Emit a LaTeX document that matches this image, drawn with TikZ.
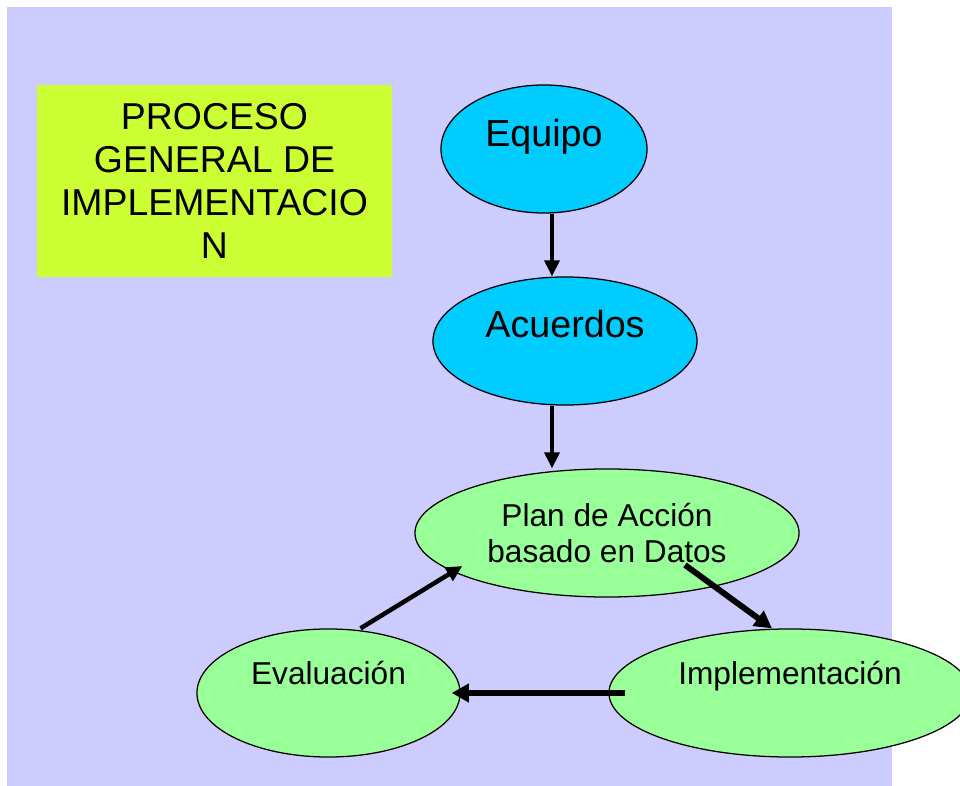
\documentclass[tikz,border=0pt]{standalone}
\usepackage{fontspec}
\setmainfont{Liberation Sans}
\usetikzlibrary{shapes.geometric,arrows.meta,calc}
\definecolor{fondo}{HTML}{CCCCFF}
\definecolor{amarillo}{HTML}{CCFF33}
\definecolor{azul}{HTML}{00CCFF}
\definecolor{verde}{HTML}{99FF99}
\begin{document}
\begin{tikzpicture}[x=0.025cm, y=-0.025cm,
  oval/.style = {draw, ellipse, line width=0.9pt, inner sep=0pt, minimum height=3.2cm},
  top/.style = {oval, fill=azul, font=\fontsize{26.8}{31}\selectfont, text height=0.65cm},
  ciclo/.style = {oval, fill=verde, font=\fontsize{22.5}{25.5}\selectfont},
  flecha/.style = {-{Triangle[length=0.4cm, width=0.375cm]}, line width=2.5pt},
  gruesa/.style = {-{Triangle[length=0.43cm, width=0.45cm]}, line width=4.2pt}]
\useasboundingbox (0,0) rectangle (960,786);
\fill[fondo] (7,7) rectangle (892,786);

\node[fill=amarillo, minimum width=8.875cm, minimum height=4.8cm, align=center,
  font=\fontsize{26.6}{30.4}\selectfont] (titulo) at (214.5,181)
  {PROCESO\\GENERAL DE\\IMPLEMENTACIO\\N};

\node[top, minimum width=5.15cm, text depth=0.75cm] (equipo) at (544,149) {Equipo};
\node[top, minimum width=6.6cm, text depth=0.8cm] (acuerdos) at (565,341) {Acuerdos};
\node[ciclo, minimum width=9.6cm, align=center] (plan) at (607,533) {Plan de Acción\\basado en Datos};
\node[ciclo, minimum width=6.575cm, text height=0.525cm, text depth=0.925cm] (eval) at (328.5,693) {Evaluación};
\node[ciclo, minimum width=9.05cm, text height=0.525cm, text depth=0.925cm] (impl) at (790,693) {Implementación};

\draw[flecha] ($(equipo.south)+(8,0)$) -- ($(acuerdos.north)+(-13,0)$);
\draw[flecha] ($(acuerdos.south)+(-13,0)$) -- ($(plan.north)+(-55,0)$);
\draw[flecha, line width=3.2pt] ($(eval.north)+(32,0)$) -- ($(plan.west)+(48,33)$);
\draw[gruesa] ($(plan.center)+(78,32)$) -- ($(impl.north)+(-18,0)$);
\draw[gruesa] ($(impl.west)+(17,0)$) -- ($(eval.east)+(-9,0)$);

\end{tikzpicture}
\end{document}
